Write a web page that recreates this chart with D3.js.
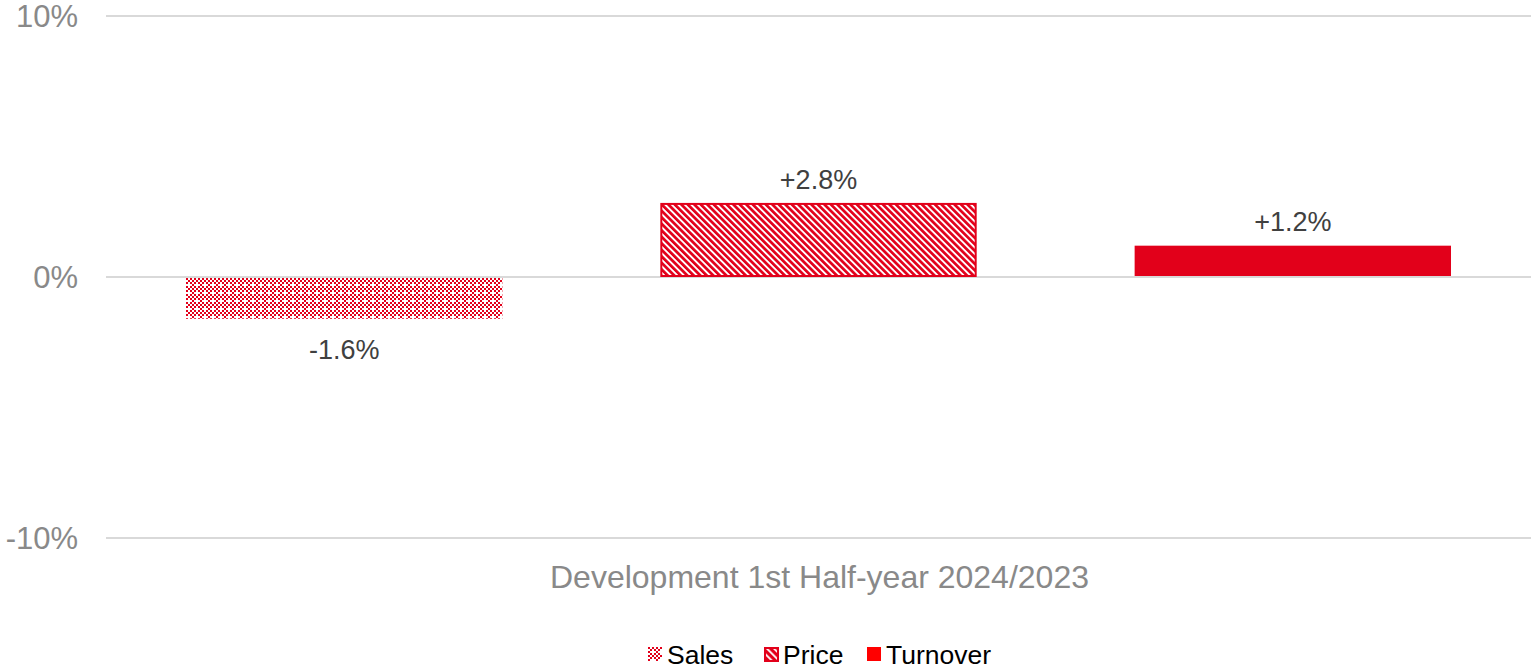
<!DOCTYPE html>
<html><head><meta charset="utf-8">
<script src="https://cdn.jsdelivr.net/npm/d3@7"></script>
<style>body{margin:0;background:#fff}svg{display:block;font-family:"Liberation Sans",Arial,sans-serif}</style>
</head><body><svg id="c" width="1531" height="669"></svg>
<script>
const categories = ["Sales", "Price", "Turnover"];
const values = [-1.6, 2.8, 1.2];
const valueLabels = ["-1.6%", "+2.8%", "+1.2%"];
const yTicks = [-10, 0, 10];
const yTickLabels = ["-10%", "0%", "10%"];
const groupLabel = "Development 1st Half-year 2024/2023";

const red = "#E2001A";
const svg = d3.select("#c");
const W = 1531, H = 669;
const m = {l: 106, r: 0, t: 16, b: 131};
const y = d3.scaleLinear().domain([-10, 10]).range([H - m.b, m.t]);
const x0 = d3.scaleBand().domain([groupLabel]).range([m.l, W - m.r]).paddingInner(0).paddingOuter(0);
const inner = d3.scaleBand().domain(categories).range([m.l + 80, W - 80]).paddingInner(0.333).paddingOuter(0);

const defs = svg.append("defs");
const p1 = defs.append("pattern").attr("id", "pSales").attr("patternUnits", "userSpaceOnUse").attr("width", 8).attr("height", 8);
p1.append("rect").attr("width", 8).attr("height", 8).attr("fill", "#fff");
[[0,0],[2,0],[1,1],[3,1],[0,2],[1,3],[3,3]].forEach(([cx, cy]) =>
  p1.append("rect").attr("x", cx * 2).attr("y", cy * 2).attr("width", 2).attr("height", 2).attr("fill", red));
const p2 = defs.append("pattern").attr("id", "pPrice").attr("patternUnits", "userSpaceOnUse").attr("width", 4.6).attr("height", 4.6).attr("patternTransform", "rotate(-45)");
p2.append("rect").attr("width", 4.6).attr("height", 4.6).attr("fill", "#fff");
p2.append("rect").attr("x", 0).attr("y", 0).attr("width", 2.7).attr("height", 4.6).attr("fill", red);
const p3 = defs.append("pattern").attr("id", "pPriceLeg").attr("patternUnits", "userSpaceOnUse").attr("width", 5).attr("height", 5).attr("patternTransform", "rotate(-45)");
p3.append("rect").attr("width", 5).attr("height", 5).attr("fill", red);
p3.append("rect").attr("x", 0).attr("y", 0).attr("width", 1.8).attr("height", 5).attr("fill", "#fff");
const fills = ["url(#pSales)", "url(#pPrice)", red];
const strokes = ["none", red, "none"];

// grid
svg.append("g").selectAll("line").data(yTicks).join("line")
  .attr("x1", m.l).attr("x2", W).attr("y1", d => y(d)).attr("y2", d => y(d))
  .attr("stroke", "#d9d9d9").attr("stroke-width", 2);
const yAxis = d3.axisLeft(y).tickValues(yTicks).tickFormat((d, i) => yTickLabels[i]).tickSize(0).tickPadding(0);
const ga = svg.append("g").attr("transform", `translate(78,0)`).call(yAxis);
ga.select(".domain").remove();
ga.selectAll("text").attr("font-size", 31).attr("fill", "#898989").attr("font-family", "Liberation Sans, Arial, sans-serif").attr("dy", "0.35em");

// bars
svg.append("g").selectAll("rect").data(values).join("rect")
  .attr("x", (d, i) => inner(categories[i]) + (strokes[i] !== "none" ? 1 : 0))
  .attr("width", (d, i) => inner.bandwidth() - (strokes[i] !== "none" ? 2 : 0))
  .attr("y", d => Math.min(y(d), y(0)) + (d > 0 ? 0 : 1))
  .attr("height", d => Math.abs(y(d) - y(0)) - 1)
  .attr("fill", (d, i) => fills[i]).attr("stroke", (d, i) => strokes[i]).attr("stroke-width", 2);

// value labels
svg.append("g").selectAll("text").data(values).join("text")
  .attr("x", (d, i) => inner(categories[i]) + inner.bandwidth() / 2)
  .attr("y", d => d > 0 ? y(d) - 15 : y(d) + 40)
  .attr("text-anchor", "middle").attr("font-size", 27).attr("fill", "#404040")
  .text((d, i) => valueLabels[i]);

// category label
svg.append("text").attr("x", x0(groupLabel) + x0.bandwidth() / 2 + 1).attr("y", 588)
  .attr("text-anchor", "middle").attr("font-size", 32).attr("fill", "#898989").text(groupLabel);

// legend
const legX = [648, 764, 867];
const legFills = ["url(#pSales)", "url(#pPriceLeg)", "#FF0000"];
const lg = svg.append("g").selectAll("g").data(categories).join("g")
  .attr("transform", (d, i) => `translate(${legX[i]},647)`);
lg.append("rect").attr("x", (d,i)=> i===1?1:0).attr("y", (d,i)=> i===1?1:0)
  .attr("width", (d,i)=> i===1?13:14).attr("height", (d,i)=> i===1?13:14)
  .attr("fill", (d, i) => legFills[i]).attr("stroke", (d, i) => strokes[i]).attr("stroke-width", 2);
lg.append("text").attr("x", 19).attr("y", 16.5).attr("font-size", 26.5).attr("fill", "#000").text(d => d);
</script></body></html>
